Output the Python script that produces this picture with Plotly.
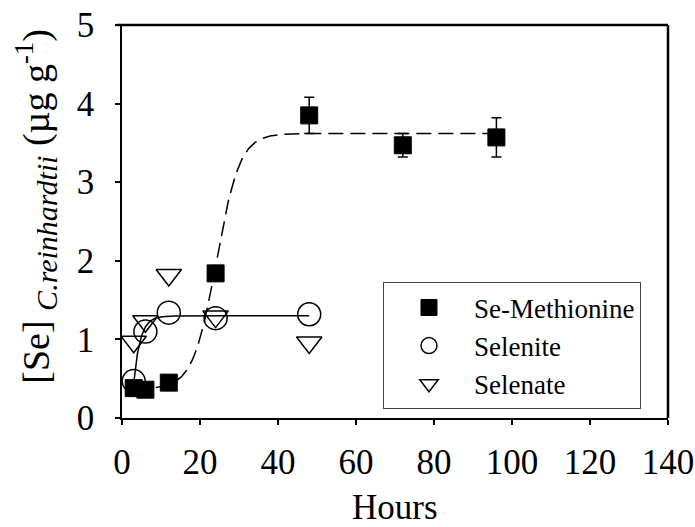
import numpy as np
import plotly.graph_objects as go

# Measured selenium content (µg/g) of C. reinhardtii over time
hours_semet = [3, 6, 12, 24, 48, 72, 96]
semet = [0.38, 0.36, 0.45, 1.84, 3.85, 3.47, 3.57]
semet_err = [0, 0, 0, 0, 0.23, 0.15, 0.25]

hours_selenite = [3, 6, 12, 24, 48]
selenite = [0.47, 1.10, 1.34, 1.27, 1.32]

hours_selenate = [3, 6, 12, 24, 48]
selenate = [0.97, 1.23, 1.82, 1.29, 0.96]

x_ticks = [0, 20, 40, 60, 80, 100, 120, 140]
y_ticks = [0, 1, 2, 3, 4, 5]

# Fitted model parameters
SEMET_BASE, SEMET_AMP, SEMET_MID, SEMET_K = 0.37, 3.25, 24.2, 3.0
SELENITE_MAX, SELENITE_START, SELENITE_RATE = 1.30, 0.44, 0.6

t_semet = np.linspace(3, 96, 400)
fit_semet = SEMET_BASE + SEMET_AMP / (1 + np.exp(-(t_semet - SEMET_MID) / SEMET_K))

t_selenite = np.linspace(3, 48, 300)
fit_selenite = SELENITE_MAX - (SELENITE_MAX - SELENITE_START) * np.exp(-SELENITE_RATE * (t_selenite - 3))

FONT = "Liberation Serif"

fig = go.Figure()

fig.add_trace(go.Scatter(
    x=t_semet, y=fit_semet, mode="lines",
    line=dict(color="black", width=1.5, dash="15px,7px"),
    showlegend=False, hoverinfo="skip",
))
fig.add_trace(go.Scatter(
    x=t_selenite, y=fit_selenite, mode="lines",
    line=dict(color="black", width=1.5),
    showlegend=False, hoverinfo="skip",
))

fig.add_trace(go.Scatter(
    x=hours_semet, y=semet, mode="markers", name="Se-Methionine",
    marker=dict(symbol="square", size=17, color="black",
                line=dict(color="black", width=1)),
    error_y=dict(type="data", array=semet_err, visible=True,
                 color="black", thickness=1.5, width=5),
))
fig.add_trace(go.Scatter(
    x=hours_selenite, y=selenite, mode="markers", name="Selenite",
    marker=dict(symbol="circle-open", size=23, color="black",
                line=dict(color="black", width=1.5)),
))
fig.add_trace(go.Scatter(
    x=hours_selenate, y=selenate, mode="markers", name="Selenate",
    marker=dict(symbol="triangle-down-open", size=22, color="black",
                line=dict(color="black", width=1.5)),
))

axis_common = dict(
    showline=True, linecolor="black", linewidth=1.5,
    ticks="outside", ticklen=5, tickwidth=1.5, tickcolor="black",
    showgrid=False, zeroline=False, automargin=False,
    tickfont=dict(family=FONT, size=35, color="black"),
)

fig.update_xaxes(range=[0, 140], tickvals=x_ticks, ticklabelstandoff=7, **axis_common)
fig.update_yaxes(range=[0, 5], tickvals=y_ticks, ticklabelstandoff=14, **axis_common)

# Top and right edges of the plot frame
fig.add_shape(type="line", xref="x domain", yref="y domain", x0=-0.01, x1=1, y0=1, y1=1,
              line=dict(color="black", width=2.5))
fig.add_shape(type="line", xref="x domain", yref="y domain", x0=1, x1=1, y0=0, y1=1,
              line=dict(color="black", width=2.5))

# Axis titles
fig.add_annotation(
    text="Hours", xref="paper", yref="paper", x=0.5, y=-0.228,
    xanchor="center", yanchor="middle", showarrow=False,
    font=dict(family=FONT, size=35, color="black"),
)
fig.add_annotation(
    text=("[Se] <sub><span style='font-size:30px'><i>C.reinhardtii</i></span></sub>"
          " (µg g<sup>-1</sup>)"),
    xref="paper", yref="paper", x=-0.158, y=0.537,
    xanchor="center", yanchor="middle", textangle=-90, showarrow=False,
    font=dict(family=FONT, size=38, color="black"),
)

fig.update_layout(
    width=695, height=527,
    margin=dict(l=122, r=27, t=25, b=109),
    paper_bgcolor="white", plot_bgcolor="white",
    legend=dict(
        x=0.478, y=0.345, xanchor="left", yanchor="top",
        bgcolor="white", bordercolor="#444", borderwidth=1,
        font=dict(family=FONT, size=27, color="black"),
        itemwidth=80, tracegroupgap=0,
    ),
)

fig.write_html("out.html")
